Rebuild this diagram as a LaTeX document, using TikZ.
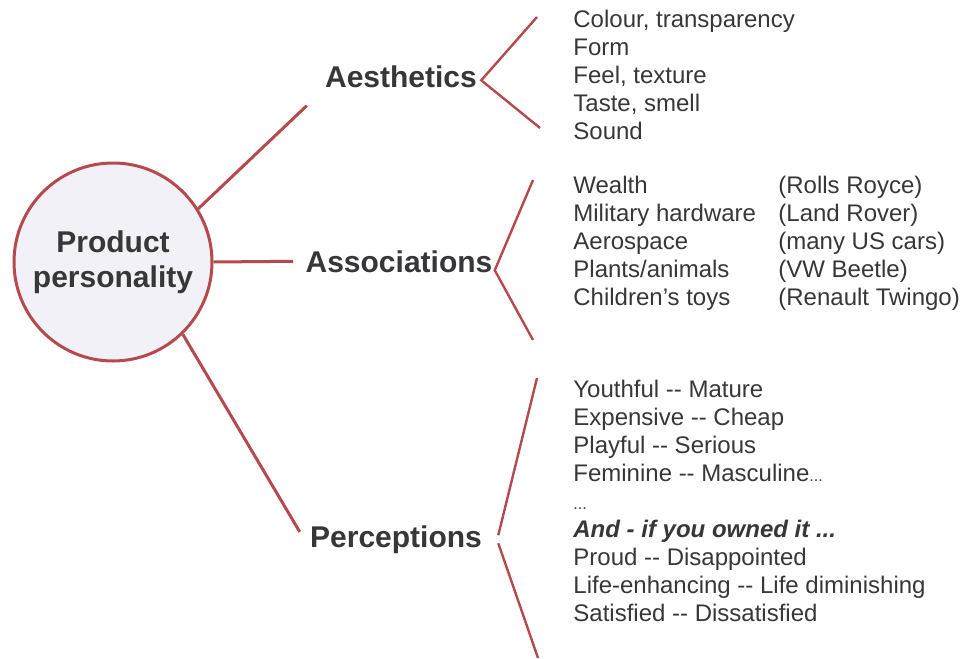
\documentclass[tikz,border=0pt]{standalone}
\usepackage{fontspec}
\setmainfont{Liberation Sans}
\usepackage{xcolor}
\definecolor{brick}{RGB}{180,74,78}
\definecolor{ink}{RGB}{55,55,58}
\definecolor{mist}{RGB}{241,241,247}

\begin{document}
\begin{tikzpicture}[%
  x=0.5pt,y=-0.5pt,
  hub/.style={circle,draw=brick,line width=1.5pt,fill=mist,minimum size=99pt,
    inner sep=0pt,align=center,text=ink,font=\fontsize{15}{17.5}\selectfont\bfseries},
  topic/.style={anchor=base,inner sep=1pt,text=ink,font=\fontsize{15}{17}\selectfont\bfseries},
  items/.style={anchor=north west,inner sep=0pt,align=left,text=ink,
    font=\fontsize{12}{14}\selectfont},
  spoke/.style={draw=brick,line width=1.5pt},
  fork/.style={draw=brick,line width=1.2pt}]
\useasboundingbox (0,0) rectangle (961,658);

\node[hub] (pp) at (113,262) {Product\\personality};
\node[topic] (aes) at (401,88) {Aesthetics};
\node[topic] (assoc) at (399,272) {Associations};
\node[topic] (perc) at (396,547) {Perceptions};

\node[items] (aeslist) at (573,9.5) {Colour, transparency\\Form\\Feel, texture\\Taste, smell\\Sound};
\node[items] (assoclist) at (573,175.5) {Wealth\\Military hardware\\Aerospace\\Plants/animals\\Children's toys};
\node[items] (assocnote) at (778,175.5) {(Rolls Royce)\\(Land Rover)\\(many US cars)\\(VW Beetle)\\(Renault Twingo)};
\node[items] (perclist) at (573,379.5) {Youthful -{}- Mature\\Expensive -{}- Cheap\\Playful -{}- Serious\\
  Feminine -{}- Masculine{\footnotesize...}\\{\footnotesize...}\\\textbf{\textit{And - if you owned it ...}}\\
  Proud -{}- Disappointed\\Life-enhancing -{}- Life diminishing\\Satisfied -{}- Dissatisfied};

\coordinate (aestop) at (537,17);
\coordinate (aesbot) at (540,128);
\coordinate (assoctop) at (533,180);
\coordinate (assocbot) at (533,340);
\coordinate (perctop) at (537,378);
\coordinate (percbot) at (538,658);

\draw[spoke] (pp.32) -- ([shift={(-16,15)}]aes.south west);
\draw[spoke] (pp.east) -- ([xshift=-5pt]assoc.west);
\draw[spoke] (pp.-46) -- ([shift={(-8,9)}]perc.north west);

\draw[fork] (aestop) -- ([shift={(2,3)}]aes.east) -- (aesbot);
\draw[fork] (assoctop) -- ([shift={(0,9)}]assoc.east) -- (assocbot);
\draw[fork] (perctop) -- ([shift={(14,-4)}]perc.east);
\draw[fork] ([shift={(14,4)}]perc.east) -- (percbot);
\end{tikzpicture}
\end{document}
